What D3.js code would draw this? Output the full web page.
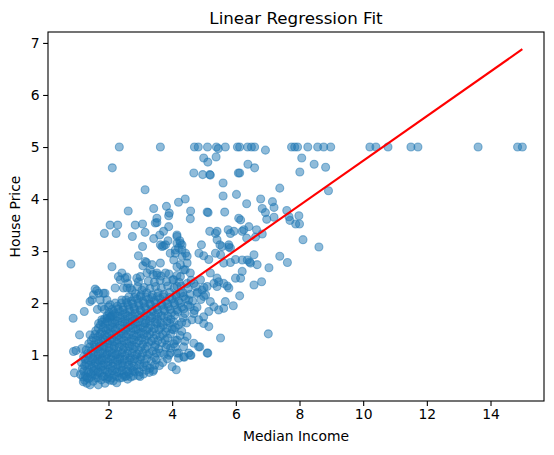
<!DOCTYPE html>
<html>
<head>
<meta charset="utf-8">
<script src="https://cdn.jsdelivr.net/npm/d3@7"></script>
<style>
  body { margin: 0; background: #fff; }
  text { font-family: "DejaVu Sans", sans-serif; fill: #000; }
</style>
</head>
<body>
<div id="chart"></div>
<script>
// incomes of the districts whose price is capped at 5.0
var cappedIncome = [2.34, 3.63, 4.70, 4.82, 5.11, 5.39, 5.67, 6.05, 6.12, 6.37, 6.49, 6.59,
  7.75, 7.85, 7.94, 8.26, 8.57, 8.76, 8.98, 10.21, 10.40, 10.78, 11.50, 11.72, 13.61, 14.85, 15.0];
var cappedPrice = 5.0;

// scattered points above the main cloud [income, price]
var upperPoints = [
  [5.45, 4.97], [6.93, 4.94], [4.99, 4.79], [5.12, 4.71], [5.38, 4.81], [4.68, 4.50], [4.96, 4.47],
  [5.18, 4.47], [5.20, 4.46], [6.08, 4.50], [5.60, 4.31], [5.60, 4.06], [6.02, 4.09], [2.12, 4.60],
  [3.15, 4.18], [4.41, 4.00], [4.20, 3.94], [3.82, 3.86], [3.42, 3.82], [2.62, 3.77], [3.91, 3.73],
  [3.89, 3.68], [4.58, 3.77], [5.10, 3.75], [5.13, 3.74], [5.65, 3.75], [3.52, 3.63], [6.09, 3.63],
  [8.07, 4.79], [8.46, 4.67], [8.82, 4.61], [8.01, 4.52], [6.38, 4.67], [6.59, 4.60], [6.12, 4.50],
  [7.38, 4.21], [8.91, 4.16], [6.34, 3.91], [6.78, 4.00], [7.15, 3.95], [7.20, 3.84], [6.83, 3.82],
  [6.93, 3.74], [6.97, 3.61], [7.20, 3.65], [7.60, 3.78], [7.67, 3.66], [7.70, 3.59], [7.98, 3.68],
  [7.88, 3.52], [8.00, 3.52], [6.15, 3.60], [6.41, 3.47], [6.25, 3.41], [6.20, 3.38], [5.94, 3.38],
  [6.65, 3.41], [6.83, 3.33], [6.62, 3.27], [6.34, 3.25], [8.11, 3.22], [8.61, 3.08], [5.83, 3.06],
  [6.57, 2.93], [6.36, 2.83], [6.20, 2.83], [5.99, 2.84], [6.67, 2.74], [6.46, 2.77], [7.38, 2.90],
  [7.62, 2.78], [7.04, 2.68], [2.05, 3.50], [2.29, 3.50], [2.84, 3.50], [3.07, 3.52], [3.89, 3.47],
  [1.87, 3.34], [2.24, 3.34], [2.75, 3.28], [3.15, 3.36], [3.42, 3.24], [3.61, 3.31], [3.87, 3.20],
  [4.15, 3.31], [4.24, 3.20], [5.18, 3.38], [5.41, 3.38], [5.76, 3.41], [3.07, 3.09], [3.63, 3.12],
  [3.73, 3.10], [4.92, 3.12], [5.41, 3.22], [5.50, 3.12], [5.78, 3.12], [4.15, 3.15], [4.31, 3.12],
  [4.20, 3.06], [4.57, 3.62], [3.47, 3.54], [3.52, 3.55], [3.73, 3.38], [3.79, 3.12], [3.68, 3.09],
  [3.94, 2.96], [0.82, 2.75]
];

// points in the middle band [income, price]
var middlePoints = [
  [6.43, 2.79], [6.20, 2.61], [5.99, 2.48], [6.15, 2.48], [6.57, 2.35], [6.81, 2.41], [6.12, 2.14],
  [7.02, 1.41], [5.52, 1.33], [5.92, 1.95], [5.67, 2.03], [5.62, 1.90], [5.46, 1.87], [5.73, 2.33],
  [5.78, 2.29], [5.62, 2.38], [5.46, 2.41], [5.41, 2.32], [5.83, 2.78], [5.62, 2.77], [5.52, 2.93],
  [5.36, 2.96], [5.15, 2.84], [4.99, 2.91], [4.84, 2.96], [5.57, 3.09], [5.78, 3.08], [5.36, 3.34],
  [5.83, 3.34], [5.20, 2.58], [5.41, 2.48], [5.31, 2.38], [5.10, 2.32], [4.94, 2.25], [4.78, 2.19],
  [4.99, 2.13], [5.20, 2.03], [5.31, 1.93], [5.15, 1.84], [4.99, 1.74], [4.83, 1.68], [4.99, 1.61],
  [5.15, 1.55], [4.68, 1.80], [4.57, 1.93], [4.52, 2.06], [4.36, 2.13], [4.26, 2.19], [4.15, 2.32],
  [4.05, 2.45], [4.26, 2.51], [4.47, 2.38], [4.68, 2.38], [4.89, 2.45], [4.57, 2.58], [4.36, 2.64],
  [4.15, 2.70], [4.05, 2.83], [4.31, 2.90], [4.47, 2.77], [4.10, 3.02], [4.26, 3.15], [4.42, 2.96],
  [4.15, 3.28], [4.05, 1.49], [4.15, 1.29], [4.36, 1.16], [4.47, 1.36], [4.68, 1.23], [4.57, 1.00],
  [4.83, 1.16], [5.10, 1.04], [4.20, 1.04], [4.10, 1.16], [4.00, 0.78], [4.13, 0.72], [4.38, 0.96],
  [4.59, 1.00], [4.87, 1.16], [5.12, 1.04], [3.63, 1.04], [3.89, 1.00], [2.94, 2.91], [3.19, 2.78],
  [3.08, 2.72], [3.31, 2.64], [3.21, 2.58], [3.00, 2.51], [2.94, 2.41], [3.63, 2.77], [3.79, 2.58],
  [3.52, 2.58], [2.11, 2.70], [2.42, 2.58], [2.31, 2.51], [2.52, 2.48], [2.61, 2.38], [2.68, 2.29],
  [2.47, 2.29], [2.21, 2.29], [2.89, 2.48], [2.92, 2.32], [1.63, 2.24], [1.89, 2.19], [1.53, 2.16],
  [1.48, 2.06], [1.42, 2.03], [1.74, 2.06], [1.65, 1.88], [1.87, 1.88], [2.00, 1.93], [1.79, 1.68],
  [1.95, 1.71], [2.16, 1.84], [2.08, 1.74], [1.24, 1.84], [0.89, 1.71], [1.09, 1.39], [1.42, 1.39],
  [0.98, 1.09], [1.16, 1.13], [0.93, 0.66], [1.21, 0.49], [1.42, 0.43], [1.68, 0.43], [1.89, 0.46],
  [2.05, 0.52], [2.26, 0.47], [2.52, 0.59], [3.42, 0.72], [1.32, 0.46], [2.99, 0.59], [4.36, 0.97],
  [4.52, 1.04], [3.84, 1.20], [3.94, 1.04], [4.15, 1.04], [0.90, 1.07], [1.69, 1.61], [2.58, 2.50],
  [2.37, 2.45], [3.15, 2.80], [3.37, 2.74], [3.52, 2.54], [4.10, 2.96], [4.31, 3.02], [4.47, 2.90],
  [4.26, 2.74], [4.41, 2.64], [1.58, 2.27], [1.69, 2.19], [1.84, 2.19], [1.95, 2.06], [2.05, 1.97],
  [2.21, 2.00], [2.42, 2.06], [2.58, 2.29], [2.74, 2.25], [3.05, 2.25], [1.79, 1.93], [2.05, 1.75]
];

// the dense cloud of low income districts [income, price]
var densePoints = [
  [1.25, 0.52], [1.38, 0.55], [1.52, 0.50], [1.60, 0.56], [1.78, 0.53], [1.95, 0.55], [2.15, 0.51],
  [2.35, 0.56], [2.60, 0.54], [2.78, 0.60],
  [1.12, 0.63], [1.28, 0.60], [1.44, 0.64], [1.58, 0.62], [1.72, 0.66], [1.86, 0.60], [2.02, 0.64],
  [2.18, 0.62], [2.32, 0.66], [2.48, 0.63], [2.65, 0.65], [2.82, 0.68], [3.10, 0.64], [3.28, 0.67],
  [1.18, 0.74], [1.34, 0.72], [1.48, 0.76], [1.62, 0.73], [1.76, 0.77], [1.90, 0.72], [2.06, 0.75],
  [2.22, 0.73], [2.38, 0.77], [2.55, 0.72], [2.72, 0.76], [2.90, 0.74], [3.08, 0.78], [3.30, 0.75],
  [3.60, 0.80],
  [1.15, 0.86], [1.30, 0.84], [1.45, 0.88], [1.58, 0.85], [1.72, 0.89], [1.86, 0.84], [2.00, 0.87],
  [2.14, 0.85], [2.28, 0.89], [2.42, 0.84], [2.58, 0.88], [2.74, 0.86], [2.92, 0.90], [3.12, 0.85],
  [3.35, 0.88], [3.70, 0.86],
  [1.22, 0.97], [1.38, 1.00], [1.52, 0.96], [1.66, 0.99], [1.80, 0.95], [1.94, 1.00], [2.08, 0.97],
  [2.22, 1.01], [2.36, 0.96], [2.52, 0.99], [2.68, 0.95], [2.84, 1.00], [3.02, 0.97], [3.22, 1.01],
  [3.45, 0.96], [4.20, 0.94],
  [1.30, 1.10], [1.46, 1.08], [1.60, 1.12], [1.74, 1.07], [1.88, 1.11], [2.02, 1.08], [2.16, 1.12],
  [2.30, 1.07], [2.46, 1.11], [2.62, 1.08], [2.78, 1.12], [2.96, 1.09], [3.15, 1.12], [3.38, 1.08],
  [3.58, 1.12], [3.95, 1.14],
  [1.38, 1.22], [1.55, 1.20], [1.70, 1.24], [1.84, 1.19], [1.98, 1.23], [2.12, 1.20], [2.27, 1.24],
  [2.42, 1.20], [2.58, 1.23], [2.74, 1.19], [2.90, 1.24], [3.08, 1.21], [3.26, 1.25], [3.48, 1.20],
  [3.68, 1.24], [4.05, 1.22], [4.40, 1.27],
  [1.52, 1.33], [1.68, 1.36], [1.82, 1.32], [1.96, 1.35], [2.10, 1.32], [2.25, 1.36], [2.40, 1.33],
  [2.56, 1.36], [2.72, 1.32], [2.88, 1.36], [3.04, 1.33], [3.22, 1.37], [3.42, 1.32], [3.62, 1.36],
  [3.86, 1.33], [4.25, 1.38],
  [1.60, 1.47], [1.78, 1.44], [1.92, 1.48], [2.06, 1.45], [2.22, 1.49], [2.38, 1.44], [2.54, 1.48],
  [2.70, 1.45], [2.86, 1.49], [3.02, 1.44], [3.20, 1.48], [3.38, 1.45], [3.58, 1.49], [3.80, 1.45],
  [4.00, 1.50], [4.30, 1.46],
  [1.75, 1.58], [1.90, 1.60], [2.04, 1.56], [2.20, 1.60], [2.36, 1.57], [2.52, 1.61], [2.68, 1.57],
  [2.84, 1.60], [3.00, 1.56], [3.16, 1.61], [3.34, 1.57], [3.52, 1.61], [3.72, 1.57], [3.92, 1.62],
  [4.20, 1.58], [4.45, 1.62],
  [1.88, 1.70], [2.04, 1.72], [2.20, 1.68], [2.36, 1.72], [2.52, 1.69], [2.68, 1.73], [2.84, 1.69],
  [3.00, 1.72], [3.18, 1.68], [3.36, 1.72], [3.54, 1.69], [3.74, 1.73], [3.96, 1.69], [4.35, 1.72],
  [4.62, 1.68],
  [2.02, 1.82], [2.20, 1.80], [2.36, 1.84], [2.52, 1.80], [2.68, 1.84], [2.84, 1.81], [3.02, 1.85],
  [3.20, 1.80], [3.38, 1.84], [3.56, 1.80], [3.76, 1.85], [3.98, 1.81], [4.18, 1.84], [4.40, 1.80],
  [4.70, 1.86],
  [2.28, 1.94], [2.46, 1.92], [2.62, 1.96], [2.80, 1.92], [2.96, 1.96], [3.14, 1.93], [3.32, 1.97],
  [3.50, 1.92], [3.68, 1.96], [3.88, 1.93], [4.08, 1.97], [4.30, 1.92], [4.50, 1.96], [4.78, 1.92],
  [2.55, 2.06], [2.72, 2.04], [2.90, 2.08], [3.08, 2.04], [3.26, 2.08], [3.44, 2.05], [3.62, 2.09],
  [3.80, 2.04], [4.00, 2.08], [4.20, 2.04], [4.42, 2.08], [4.64, 2.04], [4.90, 2.07],
  [2.85, 2.18], [3.02, 2.16], [3.20, 2.20], [3.38, 2.16], [3.56, 2.20], [3.74, 2.17], [3.92, 2.21],
  [4.12, 2.16], [4.34, 2.20], [4.56, 2.17], [4.80, 2.21], [5.05, 2.16],
  [3.12, 2.30], [3.30, 2.28], [3.48, 2.32], [3.66, 2.29], [3.86, 2.33], [4.06, 2.29], [4.28, 2.33],
  [4.50, 2.28], [4.74, 2.32], [5.00, 2.30],
  [3.25, 2.42], [3.44, 2.40], [3.62, 2.44], [3.82, 2.41], [4.02, 2.45], [4.22, 2.40], [4.60, 2.44],
  [3.40, 2.55], [3.65, 2.52], [3.90, 2.56], [4.15, 2.53]
];

// more districts packed into the core of the cloud [income, price]
var corePoints = [
  [1.20, 0.58], [1.33, 0.57], [1.47, 0.59], [1.66, 0.57], [1.82, 0.59], [2.00, 0.58], [2.10, 0.56],
  [2.27, 0.59], [2.43, 0.57], [2.56, 0.60], [2.70, 0.58], [2.95, 0.61],
  [1.22, 0.69], [1.37, 0.67], [1.53, 0.70], [1.67, 0.68], [1.81, 0.71], [1.97, 0.68], [2.12, 0.70],
  [2.27, 0.68], [2.43, 0.71], [2.60, 0.69], [2.77, 0.70], [2.97, 0.68], [3.18, 0.71], [3.40, 0.69],
  [1.25, 0.80], [1.40, 0.81], [1.55, 0.79], [1.68, 0.82], [1.83, 0.80], [1.98, 0.81], [2.13, 0.79],
  [2.30, 0.82], [2.46, 0.80], [2.63, 0.81], [2.80, 0.79], [2.98, 0.82], [3.20, 0.80], [3.45, 0.81],
  [1.26, 0.92], [1.37, 0.91], [1.51, 0.93], [1.65, 0.92], [1.79, 0.91], [1.93, 0.93], [2.07, 0.92],
  [2.21, 0.91], [2.35, 0.93], [2.50, 0.92], [2.66, 0.91], [2.82, 0.93], [3.00, 0.92], [3.20, 0.93],
  [3.50, 0.91], [3.85, 0.93],
  [1.35, 1.03], [1.53, 1.04], [1.68, 1.02], [1.82, 1.04], [1.96, 1.03], [2.12, 1.04], [2.26, 1.02],
  [2.42, 1.04], [2.58, 1.03], [2.74, 1.04], [2.90, 1.02], [3.08, 1.04], [3.28, 1.03], [3.50, 1.04],
  [3.75, 1.02],
  [1.42, 1.16], [1.58, 1.15], [1.72, 1.17], [1.86, 1.16], [2.02, 1.15], [2.18, 1.17], [2.34, 1.16],
  [2.50, 1.15], [2.66, 1.17], [2.84, 1.16], [3.02, 1.15], [3.22, 1.17], [3.45, 1.16], [3.80, 1.15],
  [1.46, 1.28], [1.62, 1.29], [1.77, 1.27], [1.90, 1.29], [2.04, 1.28], [2.18, 1.27], [2.33, 1.29],
  [2.48, 1.28], [2.64, 1.27], [2.80, 1.29], [2.97, 1.28], [3.15, 1.29], [3.35, 1.27], [3.55, 1.28],
  [3.78, 1.29], [4.10, 1.28],
  [1.58, 1.40], [1.74, 1.41], [1.88, 1.39], [2.02, 1.41], [2.17, 1.40], [2.32, 1.39], [2.47, 1.41],
  [2.63, 1.40], [2.79, 1.39], [2.95, 1.41], [3.12, 1.40], [3.30, 1.41], [3.50, 1.39], [3.70, 1.40],
  [3.95, 1.41],
  [1.68, 1.52], [1.84, 1.53], [1.98, 1.51], [2.13, 1.53], [2.29, 1.52], [2.45, 1.51], [2.61, 1.53],
  [2.77, 1.52], [2.93, 1.51], [3.09, 1.53], [3.26, 1.52], [3.44, 1.51], [3.64, 1.53], [3.84, 1.52],
  [4.10, 1.53],
  [1.80, 1.64], [1.96, 1.65], [2.12, 1.63], [2.28, 1.65], [2.44, 1.64], [2.60, 1.63], [2.76, 1.65],
  [2.92, 1.64], [3.10, 1.63], [3.28, 1.65], [3.46, 1.64], [3.64, 1.63], [3.84, 1.65], [4.05, 1.64],
  [4.30, 1.63],
  [1.96, 1.76], [2.12, 1.77], [2.28, 1.75], [2.44, 1.77], [2.60, 1.76], [2.76, 1.75], [2.94, 1.77],
  [3.12, 1.76], [3.30, 1.75], [3.48, 1.77], [3.66, 1.76], [3.86, 1.75], [4.08, 1.77],
  [2.12, 1.88], [2.30, 1.89], [2.46, 1.87], [2.64, 1.89], [2.82, 1.88], [3.00, 1.87], [3.18, 1.89],
  [3.36, 1.88], [3.54, 1.87], [3.74, 1.89], [3.94, 1.88], [4.15, 1.87], [4.36, 1.89],
  [2.40, 2.00], [2.58, 2.01], [2.76, 1.99], [2.94, 2.01], [3.12, 2.00], [3.30, 1.99], [3.48, 2.01],
  [3.66, 2.00], [3.86, 1.99], [4.06, 2.01], [4.26, 2.00],
  [2.64, 2.12], [2.82, 2.11], [3.00, 2.13], [3.18, 2.12], [3.36, 2.11], [3.54, 2.13], [3.72, 2.12],
  [3.92, 2.11], [4.12, 2.13]
];

// fitted regression line: price = intercept + slope * income
var fitSlope = 0.4286;
var fitIntercept = 0.45;

var xTicks = [2, 4, 6, 8, 10, 12, 14];
var yTicks = [1, 2, 3, 4, 5, 6, 7];

var width = 554, height = 455;
var margin = {top: 32, right: 10, bottom: 54, left: 48};

var points = cappedIncome.map(function(d) { return [d, cappedPrice]; })
  .concat(upperPoints, middlePoints, densePoints, corePoints);

var svg = d3.select("#chart").append("svg")
  .attr("width", width)
  .attr("height", height);

var x = d3.scaleLinear().domain([0.1, 15.68]).range([margin.left, width - margin.right]);
var y = d3.scaleLinear().domain([0.12, 7.21]).range([height - margin.bottom, margin.top]);

// points
svg.append("g")
  .selectAll("circle")
  .data(points)
  .enter().append("circle")
  .attr("cx", function(d) { return x(d[0]); })
  .attr("cy", function(d) { return y(d[1]); })
  .attr("r", 4)
  .style("fill", "#1f77b4")
  .style("fill-opacity", 0.5)
  .style("stroke", "#1f77b4")
  .style("stroke-opacity", 0.5)
  .style("stroke-width", 1.1);

// regression line over the income range
var xr = d3.extent(points, function(d) { return d[0]; });
svg.append("path")
  .datum(xr)
  .attr("d", d3.line()
    .x(function(d) { return x(d); })
    .y(function(d) { return y(fitIntercept + fitSlope * d); }))
  .style("fill", "none")
  .style("stroke", "red")
  .style("stroke-width", 2.1);

// axes
var xAxis = svg.append("g")
  .attr("transform", "translate(0," + (height - margin.bottom) + ")")
  .call(d3.axisBottom(x).tickValues(xTicks).tickSize(4.9).tickPadding(3.5));
var yAxis = svg.append("g")
  .attr("transform", "translate(" + margin.left + ",0)")
  .call(d3.axisLeft(y).tickValues(yTicks).tickSize(4.9).tickPadding(3.5));
[xAxis, yAxis].forEach(function(a) {
  a.select(".domain").remove();
  a.selectAll(".tick line").style("stroke", "#000").style("stroke-width", 1.1);
  a.selectAll(".tick text").style("font-size", "13.9px").style("font-family", "DejaVu Sans").style("fill", "#000");
});

// frame
svg.append("rect")
  .attr("x", margin.left)
  .attr("y", margin.top)
  .attr("width", width - margin.left - margin.right)
  .attr("height", height - margin.top - margin.bottom)
  .style("fill", "none")
  .style("stroke", "#000")
  .style("stroke-width", 1.1);

// title and labels
svg.append("text")
  .attr("x", (margin.left + width - margin.right) / 2)
  .attr("y", margin.top - 8.5)
  .attr("text-anchor", "middle")
  .style("font-size", "16.7px")
  .text("Linear Regression Fit");

svg.append("text")
  .attr("x", (margin.left + width - margin.right) / 2)
  .attr("y", 441)
  .attr("text-anchor", "middle")
  .style("font-size", "13.9px")
  .text("Median Income");

svg.append("text")
  .attr("transform", "translate(20," + ((margin.top + height - margin.bottom) / 2) + ") rotate(-90)")
  .attr("text-anchor", "middle")
  .style("font-size", "13.9px")
  .text("House Price");
</script>
</body>
</html>
